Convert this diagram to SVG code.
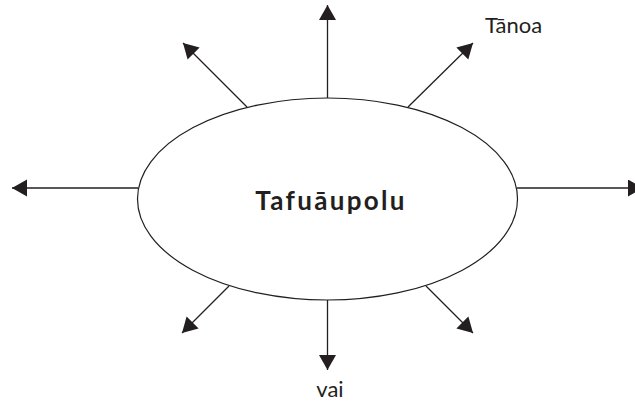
<svg xmlns="http://www.w3.org/2000/svg" width="635" height="403" viewBox="0 0 635 403">
<style>
.c{stroke:#231f20;stroke-width:1.3;fill:none;marker-end:url(#ah)}
.t{font-family:Lato,"Liberation Sans",sans-serif;fill:#231f20}
</style>
<defs>
<marker id="ah" markerUnits="userSpaceOnUse" markerWidth="16" markerHeight="18" refX="15" refY="8.5" orient="auto">
<path d="M0,0 L15,8.5 L0,17 z" fill="#231f20"/>
</marker>
</defs>
<rect width="635" height="403" fill="#fff"/>
<g id="connectors">
<line class="c" x1="327.5" y1="98" x2="327.5" y2="5"/>
<line class="c" x1="247" y1="107" x2="183" y2="43"/>
<line class="c" x1="408" y1="107" x2="473" y2="43"/>
<line class="c" x1="138" y1="188" x2="12" y2="188"/>
<line class="c" x1="517" y1="188" x2="643" y2="188"/>
<line class="c" x1="229" y1="286" x2="182" y2="333"/>
<line class="c" x1="327.5" y1="300" x2="327.5" y2="370"/>
<line class="c" x1="426" y1="286" x2="473" y2="333"/>
</g>
<g id="center">
<ellipse cx="327.5" cy="199" rx="190" ry="101" fill="#fff" stroke="#231f20" stroke-width="1.2"/>
<text class="t" x="331" y="210" font-size="26" font-weight="bold" letter-spacing="2.3" text-anchor="middle">Tafuāupolu</text>
</g>
<g id="tanoa"><text class="t" x="485" y="33" font-size="22">Tānoa</text></g>
<g id="vai"><text class="t" x="330" y="397" font-size="22" text-anchor="middle">vai</text></g>
</svg>
